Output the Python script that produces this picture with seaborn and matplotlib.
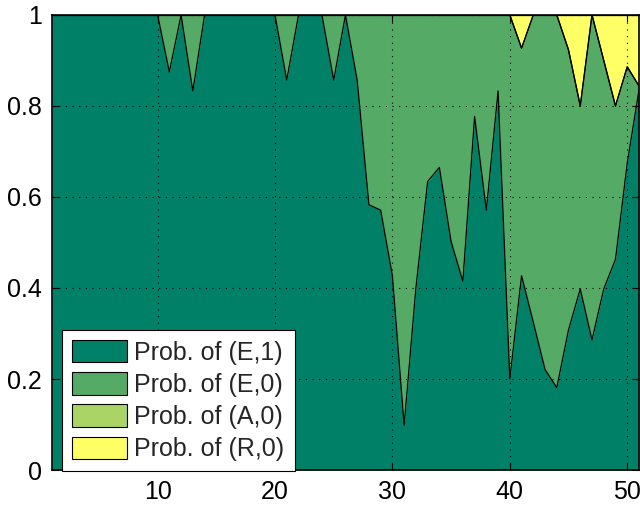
import numpy as np
import pandas as pd
import matplotlib
matplotlib.use("Agg")
import matplotlib.pyplot as plt
from matplotlib.patches import Patch
import seaborn as sns

# ---- data ----
steps = list(range(1, 52))
prob_E1 = [1, 1, 1, 1, 1, 1, 1, 1, 1, 1,            # 1-10
           0.875, 1, 0.833, 1, 1, 1, 1, 1, 1, 1,     # 11-20
           0.857, 1, 1, 1, 0.857, 1, 0.857, 0.583, 0.571, 0.427,  # 21-30
           0.098, 0.40, 0.634, 0.665, 0.502, 0.415, 0.777, 0.571, 0.833, 0.2,  # 31-40
           0.427, 0.325, 0.221, 0.181, 0.308, 0.398, 0.286, 0.398, 0.463, 0.674,  # 41-50
           0.835]                                    # 51
prob_R0 = [0] * 40 + [0.073, 0, 0, 0, 0.077, 0.2, 0, 0.1, 0.2, 0.114, 0.156]
prob_A0 = [0] * 51
prob_E0 = [max(0.0, 1 - a - r) for a, r in zip(prob_E1, prob_R0)]

labels = ["Prob. of (E,1)", "Prob. of (E,0)", "Prob. of (A,0)", "Prob. of (R,0)"]
colors = ["#008066", "#55AA66", "#AAD466", "#FFFF66"]

sns.set_theme(style="white")
plt.rcParams["font.family"] = ["Liberation Sans", "DejaVu Sans"]

fig = plt.figure(figsize=(6.4, 5.09), dpi=100)
ax = fig.add_axes([0.0812, 0.0766, 0.9172, 0.894])

series = [prob_E1, prob_E0, prob_A0, prob_R0]
x = np.array(steps)
lower = np.zeros(len(steps))
for vals, col in zip(series, colors):
    upper = lower + np.array(vals)
    ax.fill_between(x, lower, upper, color=col, linewidth=0, zorder=1)
    lower = upper

# boundary lines drawn through seaborn
cum = np.cumsum(np.array(series), axis=0)
for k in range(len(series)):
    df = pd.DataFrame({"x": steps, "y": cum[k]})
    sns.lineplot(data=df, x="x", y="y", ax=ax, color="black", linewidth=0.9,
                 zorder=2, estimator=None, sort=False)

ax.set_xlim(1, 51)
ax.set_ylim(0, 1)
ax.set_xlabel("")
ax.set_ylabel("")
ax.set_xticks([10, 20, 30, 40, 50])
ax.set_yticks([0, 0.2, 0.4, 0.6, 0.8, 1])
ax.set_yticklabels(["0", "0.2", "0.4", "0.6", "0.8", "1"])
ax.tick_params(axis="both", which="both", direction="in", length=5, width=0.8,
               colors="black", labelsize=18, top=True, right=True,
               bottom=True, left=True, pad=7)
ax.grid(True, color="black", linestyle=(0, (1, 5)), linewidth=0.8, zorder=3)
ax.set_axisbelow(False)
for s in ax.spines.values():
    s.set_color("black")
    s.set_linewidth(1.2)
    s.set_zorder(4)

handles = [Patch(facecolor=c, edgecolor="black", linewidth=0.8) for c in colors]
leg = ax.legend(handles, labels, loc="lower left", bbox_to_anchor=(0.017, -0.003),
                borderaxespad=0, fontsize=18, frameon=True, fancybox=False,
                handlelength=2.2, handleheight=1.0, handletextpad=0.3,
                labelspacing=0.3, borderpad=0.4)
leg.get_frame().set_edgecolor("black")
leg.get_frame().set_linewidth(0.8)
leg.get_frame().set_alpha(1)
leg.set_zorder(5)

fig.savefig("out.png", dpi=100)
